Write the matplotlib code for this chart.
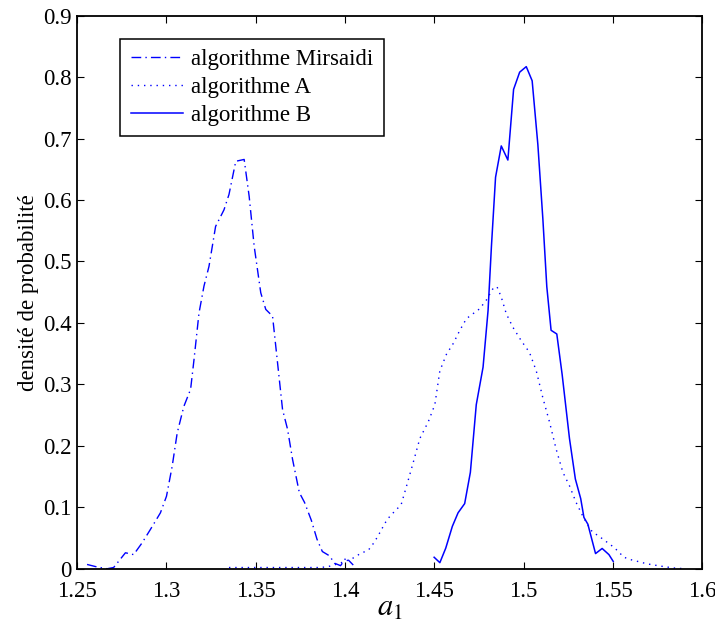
import matplotlib
matplotlib.use('Agg')
import matplotlib.pyplot as plt
from matplotlib.ticker import FuncFormatter

plt.rcParams['font.family'] = ['Liberation Serif', 'DejaVu Serif']
plt.rcParams['mathtext.fontset'] = 'stix'

# algorithme Mirsaidi
x_mirsaidi = [1.2555, 1.261, 1.2667, 1.2704, 1.277, 1.2816, 1.2863, 1.291, 1.2966, 1.300,
              1.3032, 1.306, 1.3097, 1.3135, 1.3154, 1.3182, 1.321, 1.3238, 1.3275, 1.3322,
              1.335, 1.3388, 1.3435, 1.3463, 1.3491, 1.3528, 1.3556, 1.3594, 1.3622, 1.365,
              1.3678, 1.3706, 1.3744, 1.3773, 1.3811, 1.3843, 1.3873, 1.3913, 1.3941, 1.3975,
              1.4006, 1.4046]
y_mirsaidi = [0.007, 0.003, 0.0, 0.002, 0.026, 0.023, 0.042, 0.064, 0.091, 0.118,
              0.167, 0.221, 0.264, 0.292, 0.340, 0.416, 0.460, 0.492, 0.557, 0.584,
              0.609, 0.663, 0.666, 0.606, 0.525, 0.449, 0.422, 0.411, 0.335, 0.259,
              0.227, 0.178, 0.124, 0.108, 0.079, 0.048, 0.028, 0.021, 0.009, 0.005,
              0.018, 0.006]

# algorithme A
x_a = [1.335, 1.345, 1.355, 1.365, 1.375, 1.385, 1.390, 1.396, 1.400, 1.405,
       1.4087, 1.413, 1.4156, 1.418, 1.4203, 1.4223, 1.425, 1.4283, 1.4314, 1.4342,
       1.4382, 1.4419, 1.4466, 1.4503, 1.4531, 1.4568, 1.4605, 1.4643, 1.468, 1.4717,
       1.4754, 1.4791, 1.4829, 1.4851, 1.4875, 1.4903, 1.494, 1.4987, 1.5033, 1.5071,
       1.5108, 1.5145, 1.5182, 1.522, 1.5257, 1.5294, 1.5331, 1.5357, 1.5385, 1.5422,
       1.5459, 1.5496, 1.5528, 1.556, 1.5597, 1.5645, 1.5691, 1.5732, 1.5775, 1.5822,
       1.5864, 1.591]
y_a = [0.002, 0.002, 0.002, 0.002, 0.002, 0.002, 0.003, 0.008, 0.012, 0.018,
       0.025, 0.030, 0.040, 0.051, 0.063, 0.074, 0.085, 0.095, 0.104, 0.132,
       0.173, 0.212, 0.239, 0.267, 0.322, 0.349, 0.366, 0.388, 0.407, 0.415,
       0.423, 0.437, 0.456, 0.459, 0.442, 0.415, 0.393, 0.371, 0.352, 0.322,
       0.278, 0.239, 0.195, 0.157, 0.135, 0.108, 0.086, 0.0725, 0.060, 0.053,
       0.045, 0.037, 0.029, 0.019, 0.015, 0.0115, 0.008, 0.006, 0.004, 0.002,
       0.0005, 0.0005]

# algorithme B
x_b = [1.4499, 1.4531, 1.4564, 1.4601, 1.4633, 1.467, 1.4702, 1.4735, 1.4773, 1.4801,
       1.482, 1.4843, 1.4875, 1.4912, 1.4944, 1.4978, 1.5015, 1.5048, 1.508, 1.5108,
       1.513, 1.5154, 1.5186, 1.5216, 1.5257, 1.529, 1.532, 1.5338, 1.536, 1.5403,
       1.544, 1.5478, 1.5502]
y_b = [0.0187, 0.0099, 0.0335, 0.069, 0.091, 0.106, 0.157, 0.267, 0.328, 0.420,
       0.525, 0.637, 0.688, 0.665, 0.780, 0.808, 0.817, 0.794, 0.690, 0.569,
       0.459, 0.388, 0.382, 0.316, 0.212, 0.146, 0.114, 0.0835, 0.0725, 0.0247,
       0.033, 0.023, 0.012]

fig = plt.figure(figsize=(7.15, 6.25), dpi=100)
ax = fig.add_axes([0.108, 0.09, 0.874, 0.885])

ax.plot(x_mirsaidi, y_mirsaidi, color='b', lw=1, linestyle=(0, (7, 3, 1, 3)),
        label='algorithme Mirsaidi')
ax.plot(x_a, y_a, color='b', lw=1, linestyle=(0, (1, 3.5)), label='algorithme A')
ax.plot(x_b, y_b, color='b', lw=1.1, linestyle='-', label='algorithme B')

ax.set_xlim(1.25, 1.6)
ax.set_ylim(0, 0.9)
ax.set_xticks([1.25, 1.3, 1.35, 1.4, 1.45, 1.5, 1.55, 1.6])
ax.set_yticks([0, 0.1, 0.2, 0.3, 0.4, 0.5, 0.6, 0.7, 0.8, 0.9])
fmt = FuncFormatter(lambda v, p: '%g' % round(v, 3))
ax.xaxis.set_major_formatter(fmt)
ax.yaxis.set_major_formatter(fmt)
ax.tick_params(direction='in', top=True, right=True, length=5, width=0.8,
               labelsize=16.5, pad=4)
ax.tick_params(axis='x', pad=9)
for s in ax.spines.values():
    s.set_linewidth(1.3)

ax.set_xlabel('$a_1$', fontsize=22, labelpad=-6)
ax.set_ylabel('densité de probabilité', fontsize=16.5, labelpad=3)

leg = ax.legend(loc='upper left', bbox_to_anchor=(0.069, 0.958), borderaxespad=0,
                fontsize=16.5, fancybox=False, framealpha=1, edgecolor='k',
                handlelength=2.3, handletextpad=0.35, borderpad=0.45, labelspacing=0.3)
leg.get_frame().set_linewidth(1.1)

fig.savefig('out.png', dpi=100)
